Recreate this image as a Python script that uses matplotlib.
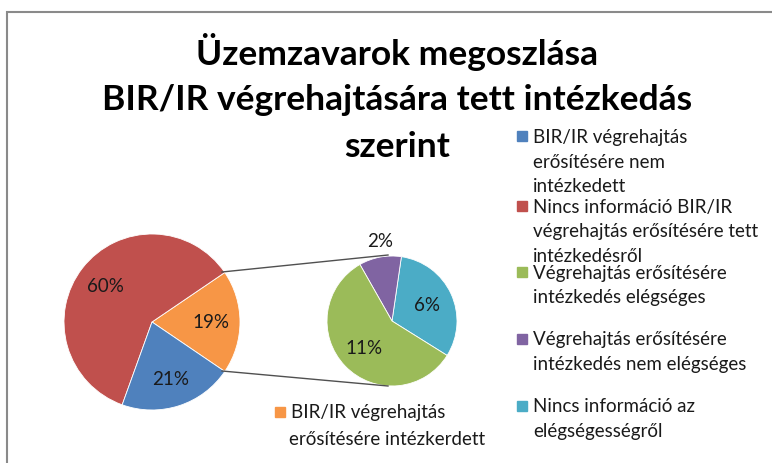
import matplotlib.pyplot as plt
from matplotlib.patches import Rectangle

plt.rcParams['font.family'] = ['Lato', 'DejaVu Sans']

# main pie: the "intézkedett" share is split out into the second pie
main_labels = ['BIR/IR végrehajtás erősítésére intézkerdett',
               'Nincs információ BIR/IR végrehajtás erősítésére tett intézkedésről',
               'BIR/IR végrehajtás erősítésére nem intézkedett']
main_values = [19, 60, 21]
main_colors = ['#F79646', '#C0504D', '#4F81BD']

sub_labels = ['Nincs információ az elégségességről',
              'Végrehajtás erősítésére intézkedés nem elégséges',
              'Végrehajtás erősítésére intézkedés elégséges']
sub_values = [6, 2, 11]
sub_colors = ['#4BACC6', '#8064A2', '#9BBB59']

W, H = 772, 464
fig = plt.figure(figsize=(W / 100, H / 100), dpi=100)
ax = fig.add_axes([0, 0, 1, 1])

def Y(y):
    # pixel rows counted from the top
    return H - y

c1, r1 = (152, Y(323)), 88
c2, r2 = (392, Y(322)), 65

lbl_kw = dict(fontsize=13.5, color='#1a1a1a', ha='center', va='center')
w1, t1 = ax.pie(main_values, colors=main_colors, center=c1, radius=r1,
                startangle=-0.5 * main_values[0] / 100 * 360, counterclock=True,
                wedgeprops=dict(linewidth=0.6, edgecolor='white'),
                labels=[f'{v}%' for v in main_values], labeldistance=0.67,
                textprops=lbl_kw)

w2, t2 = ax.pie(sub_values, colors=sub_colors, center=c2, radius=r2,
                startangle=-32, counterclock=True,
                wedgeprops=dict(linewidth=0.6, edgecolor='white'),
                labels=[f'{v}%' for v in sub_values], labeldistance=0.6,
                textprops=lbl_kw)
# small slice gets its label outside
t2[1].set_position((c2[0] - 12, c2[1] + 1.24 * r2))

# connector lines between the two pies
ax.plot([222, 388], [Y(273), Y(256)], color='#505050', lw=1.0)
ax.plot([222, 388], [Y(372), Y(387)], color='#505050', lw=1.0)

ax.set_xlim(0, W)
ax.set_ylim(0, H)
ax.set_aspect('equal')
ax.axis('off')

# chart frame
ax.add_patch(Rectangle((7, -10), W + 20, Y(13) + 10, fill=False,
                       edgecolor='#8a8a8a', lw=1.5, clip_on=False))

# title
title_kw = dict(fontsize=25.5, fontweight='bold', color='black', ha='center', va='baseline')
ax.text(397, Y(65), 'Üzemzavarok megoszlása', **title_kw)
ax.text(397, Y(110), 'BIR/IR végrehajtására tett intézkedás', **title_kw)
ax.text(397, Y(157), 'szerint', **title_kw)

# legend
leg_kw = dict(fontsize=13.5, color='#1a1a1a', ha='left', va='center')
legend_rows = [
    (main_colors[2], 137, 'BIR/IR végrehajtás\nerősítésére nem\nintézkedett'),
    (main_colors[1], 207, 'Nincs információ BIR/IR\nvégrehajtás erősítésére tett\nintézkedésről'),
    (sub_colors[2], 273, 'Végrehajtás erősítésére\nintézkedés elégséges'),
    (sub_colors[1], 340, 'Végrehajtás erősítésére\nintézkedés nem elégséges'),
    (sub_colors[0], 407, 'Nincs információ az\nelégségességről'),
]
for col, y, txt in legend_rows:
    ax.add_patch(Rectangle((517, Y(y) - 5), 10, 10, color=col))
    for i, line in enumerate(txt.split('\n')):
        ax.text(533, Y(y + 25 * i), line, **leg_kw)

ax.add_patch(Rectangle((275, Y(413) - 5), 10, 10, color=main_colors[0]))
ax.text(291, Y(413), 'BIR/IR végrehajtás', **leg_kw)
ax.text(289, Y(440), 'erősítésére intézkerdett', **leg_kw)

fig.savefig('out.png', dpi=100)
